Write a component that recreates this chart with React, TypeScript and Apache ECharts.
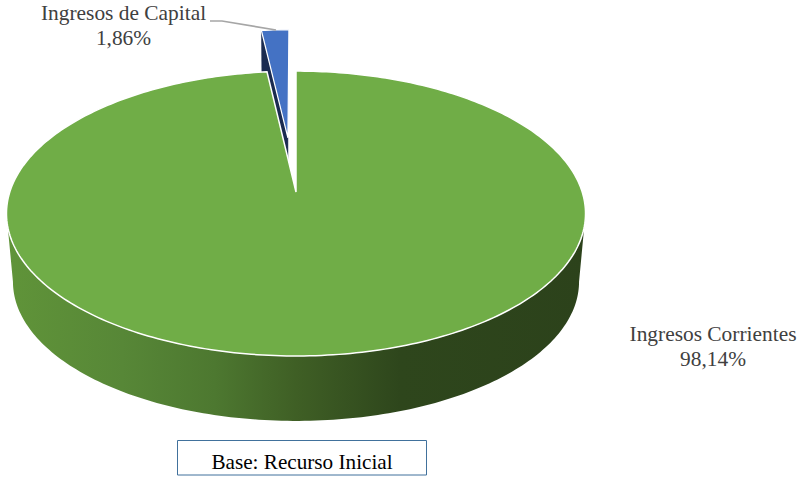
import React, { useEffect, useRef } from "react";
import * as echarts from "echarts";

const categories = ["Ingresos de Capital", "Ingresos Corrientes"];
const shares = [1.86, 98.14];
const boxLabel = "Base: Recurso Inicial";

const topColors = ["#4472c4", "#70ad47"];
const sideColors = ["#1a2b50", "#5f9339"];

// 3D pie projection: a unit disc seen in perspective
const TOP = { x0: 296, y0: 192, a: 286.2, b: 139.2, k: 0.151 };
const BASE = { x0: 296, y0: 260.7, a: 279.8, b: 136, k: 0.151 };
const EXPLODE = [0.415, 0];
const EXPLODE_TILT = -0.8;
const LABEL_POS = [
  [123.5, 25],
  [713, 346],
];

const total = shares.reduce((s, v) => s + v, 0);
const rad = (d: number) => (d * Math.PI) / 180;

function project(p: typeof TOP, u: number, v: number): number[] {
  const w = 1 - p.k * v;
  return [p.x0 + (p.a * u) / w, p.y0 + (p.b * v) / w];
}

function sliceOutline(p: typeof TOP, from: number, to: number, off: number): number[][] {
  const mid = rad((from + to) / 2 + EXPLODE_TILT);
  const ox = Math.sin(mid) * off;
  const oy = -Math.cos(mid) * off;
  const pts: number[][] = [project(p, ox, oy)];
  const n = Math.max(2, Math.ceil(to - from));
  for (let i = 0; i <= n; i++) {
    const t = rad(from + ((to - from) * i) / n);
    pts.push(project(p, ox + Math.sin(t), oy - Math.cos(t)));
  }
  return pts;
}

function arcPoints(p: typeof TOP, from: number, to: number): number[][] {
  const pts: number[][] = [];
  const n = Math.ceil(Math.abs(to - from));
  for (let i = 0; i <= n; i++) {
    const t = rad(from + ((to - from) * i) / n);
    pts.push(project(p, Math.sin(t), -Math.cos(t)));
  }
  return pts;
}

function angles(index: number): [number, number] {
  // the first slice ends at twelve o'clock, the others follow clockwise
  let start = (-shares[0] / total) * 360;
  for (let i = 0; i < index; i++) start += (shares[i] / total) * 360;
  return [start, start + (shares[index] / total) * 360];
}

export default function App() {
  const ref = useRef<HTMLDivElement>(null);
  useEffect(() => {
    document.body.style.margin = "0";
    const chart = echarts.init(ref.current!, null, { renderer: "svg" });
    const edge = (Math.acos(-TOP.k) * 180) / Math.PI;
    const wallGradient = new echarts.graphic.LinearGradient(0, 0, 1, 0, [
      { offset: 0, color: "#609439" },
      { offset: 0.2, color: "#578737" },
      { offset: 0.36, color: "#4d7830" },
      { offset: 0.5, color: "#3f5f25" },
      { offset: 0.68, color: "#2e461c" },
      { offset: 1, color: "#2c421b" },
    ]);

    chart.setOption({
      animation: false,
      backgroundColor: "#ffffff",
      tooltip: { show: false },
      graphic: [
        {
          type: "rect",
          z: 5,
          shape: { x: 177.5, y: 440.5, width: 249, height: 34.5 },
          style: { fill: "#ffffff", stroke: "#41719c", lineWidth: 1 },
        },
        {
          type: "text",
          z: 6,
          x: 302,
          y: 462,
          style: {
            text: boxLabel,
            fill: "#000000",
            font: "21.2px 'Liberation Serif'",
            align: "center",
            verticalAlign: "middle",
          },
        },
        {
          type: "polyline",
          z: 6,
          shape: { points: [[210, 21], [222, 21], [276, 30]] },
          style: { stroke: "#a6a6a6", lineWidth: 1.6, fill: "none" },
        },
      ],
      series: [
        {
          type: "custom",
          coordinateSystem: "none",
          silent: true,
          data: shares,
          renderItem: (params: any) => {
            const i = params.dataIndex;
            const [from, to] = angles(i);
            const off = EXPLODE[i];
            const children: any[] = [];
            if (off > 0) {
              const top = sliceOutline(TOP, from, to, off);
              const base = sliceOutline(BASE, from, to, off);
              children.push({
                type: "polygon",
                shape: { points: [top[0], top[1], base[1], base[0]] },
                style: { fill: sideColors[i], stroke: sideColors[i], lineWidth: 0.5 },
              });
              children.push({
                type: "polygon",
                shape: { points: top },
                style: { fill: topColors[i], stroke: "#ffffff", lineWidth: 1.2 },
              });
            } else {
              const rim = arcPoints(TOP, edge, 360 - edge);
              const baseRim = arcPoints(BASE, 360 - edge, edge);
              children.push({
                type: "polygon",
                shape: { points: rim.concat(baseRim) },
                style: { fill: wallGradient },
              });
              children.push({
                type: "polygon",
                shape: { points: sliceOutline(TOP, from, to, 0) },
                style: { fill: topColors[i], stroke: "#ffffff", lineWidth: 1.5 },
              });
            }
            children.push({
              type: "text",
              x: LABEL_POS[i][0],
              y: LABEL_POS[i][1],
              style: {
                text: `${categories[i]}\n${shares[i].toFixed(2).replace(".", ",")}%`,
                fill: "#404040",
                font: "21.4px 'Liberation Serif'",
                lineHeight: 25,
                align: "center",
                verticalAlign: "middle",
              },
            });
            return { type: "group", children };
          },
        },
      ],
    });
    return () => chart.dispose();
  }, []);
  return (
    <div
      ref={ref}
      style={{ position: "fixed", left: 0, top: 0, width: 798, height: 478 }}
    />
  );
}
